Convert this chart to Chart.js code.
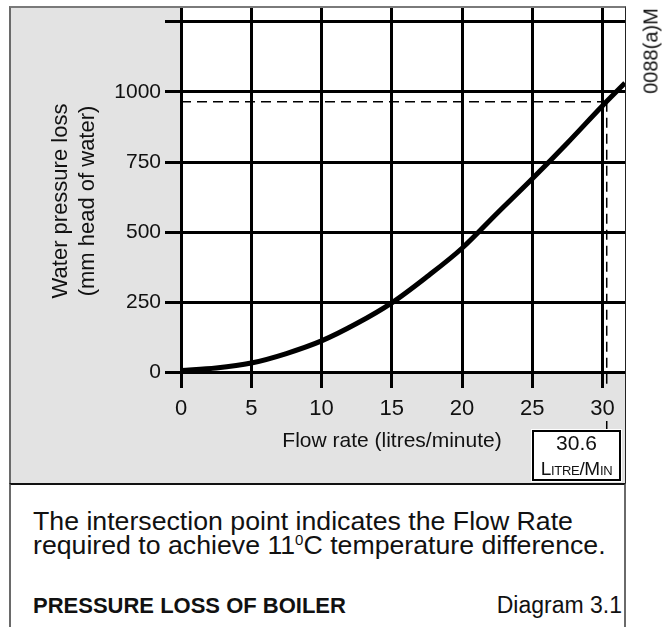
<!DOCTYPE html>
<html>
<head>
<meta charset="utf-8">
<title>Pressure loss of boiler</title>
<script src="https://cdn.jsdelivr.net/npm/chart.js@4.4.0/dist/chart.umd.min.js"></script>
<style>
  html, body { margin: 0; padding: 0; background: #fff; }
  body {
    width: 666px; height: 627px; position: relative; overflow: hidden;
    font-family: "Liberation Sans", Arial, Helvetica, sans-serif; color: #111;
  }
  #panel {
    position: absolute; left: 9px; top: 6px; width: 617px; height: 478px;
    background: #e3e3e3; box-sizing: border-box;
    border-top: 2px solid #7a7a7a; border-left: 2px solid #6a6a6a; border-right: 1px solid #222;
  }
  #wrap { position: absolute; left: 0; top: 0; width: 666px; height: 483px; }
  #ref {
    position: absolute; left: 651px; top: 51px; font-size: 20px; white-space: nowrap;
    transform: translate(-50%, -50%) rotate(-90deg);
  }
  #duty {
    position: absolute; left: 532px; top: 430px; width: 89px; height: 51px;
    box-sizing: border-box; border: 2px solid #000; background: #fff;
    box-shadow: 0 0 0 1px #fff; text-align: center;
  }
  #duty .v { font-size: 21px; line-height: 22px; margin-top: 0; }
  #duty .u { font-size: 19px; line-height: 20px; margin-top: 5px; font-variant: small-caps; letter-spacing: -0.3px; }
  #caption {
    position: absolute; left: 9px; top: 483px; width: 617px; height: 150px;
    background: #fff; box-sizing: border-box;
    border-top: 2px solid #111; border-left: 2px solid #6a6a6a; border-right: 2px solid #6a6a6a;
  }
  #caption p { position: absolute; left: 22px; top: 24px; margin: 0; font-size: 26.7px; line-height: 24px; white-space: nowrap; }
  #caption sup { font-size: 15px; vertical-align: 9px; line-height: 0; }
  #caption .name { position: absolute; left: 22px; top: 108px; font-size: 22px; font-weight: bold; }
  #caption .num { position: absolute; right: 2px; top: 107px; font-size: 23px; }
</style>
</head>
<body>
<div id="panel"></div>
<div id="wrap"><canvas id="chart" width="666" height="483"></canvas></div>
<div id="ref">0088(a)M</div>
<div id="duty"><div class="v">30.6</div><div class="u">Litre/Min</div></div>
<div id="caption">
  <p>The intersection point indicates the Flow Rate<br>required to achieve 11<sup>0</sup>C temperature difference.</p>
  <div class="name">PRESSURE LOSS OF BOILER</div>
  <div class="num">Diagram 3.1</div>
</div>
<script>
// curve
const FLOW = [0, 2.5, 5, 7.5, 10, 12.5, 15, 17.5, 20, 22.5, 25, 27.5, 30, 31.6];
const LOSS = [5, 14, 32, 66, 111, 173, 247, 340, 442, 567, 690, 818, 951, 1032];

const X_TICKS = [0, 5, 10, 15, 20, 25, 30];
const Y_TICKS = [0, 250, 500, 750, 1000, 1250];
const Y_LABELS = ["0", "250", "500", "750", "1000", ""];
const X_MAX = 31.6;
const Y_MAX = 1300;

// dashed duty point (11 C difference)
const DUTY_FLOW = 30.3;
const DUTY_LOSS = 965;
const DASH_END = -60;            // dashed drop runs a little under the axis
const LEADER = [-175, -210];     // short stroke down to the 30.6 box

const FONT = "'Liberation Sans', Arial, Helvetica, sans-serif";

const whiteArea = {
  id: "whiteArea",
  beforeDraw(chart) {
    const { ctx, chartArea: a } = chart;
    ctx.save();
    ctx.fillStyle = "#fff";
    ctx.fillRect(a.left, a.top, a.right - a.left, a.bottom - a.top);
    ctx.restore();
  },
};

const axisTitles = {
  id: "axisTitles",
  afterDraw(chart) {
    const ctx = chart.ctx;
    ctx.save();
    ctx.fillStyle = "#111";
    ctx.font = "21px " + FONT;
    ctx.textAlign = "center";
    ctx.textBaseline = "middle";
    ctx.fillText("Flow rate (litres/minute)", 392, 441);
    ctx.font = "22px " + FONT;
    ctx.translate(61, 201);
    ctx.rotate(-Math.PI / 2);
    ctx.fillText("Water pressure loss", 0, 0);
    ctx.fillText("(mm head of water)", 0, 27);
    ctx.restore();
  },
};

const gridStyle = {
  color: "#000", lineWidth: 3,
  drawTicks: true, tickLength: 16, tickColor: "#000", tickWidth: 3,
};

new Chart(document.getElementById("chart"), {
  type: "line",
  data: {
    datasets: [
      {
        data: FLOW.map((x, i) => ({ x, y: LOSS[i] })),
        borderColor: "#000", borderWidth: 5,
        pointRadius: 0, cubicInterpolationMode: "monotone",
      },
      {
        data: [{ x: 0, y: DUTY_LOSS }, { x: DUTY_FLOW, y: DUTY_LOSS }],
        borderColor: "#000", borderWidth: 1.5, borderDash: [10, 6], pointRadius: 0,
      },
      {
        data: [{ x: DUTY_FLOW, y: DUTY_LOSS }, { x: DUTY_FLOW, y: DASH_END }],
        borderColor: "#000", borderWidth: 1.5, borderDash: [10, 6], pointRadius: 0, clip: false,
      },
      {
        data: LEADER.map(y => ({ x: DUTY_FLOW, y })),
        borderColor: "#000", borderWidth: 1.5, pointRadius: 0, clip: false,
      },
    ],
  },
  options: {
    responsive: false,
    animation: false,
    events: [],
    layout: { padding: { top: 8, right: 41, left: 0, bottom: 0 } },
    plugins: { legend: { display: false }, tooltip: { enabled: false } },
    scales: {
      x: {
        type: "linear", min: 0, max: X_MAX,
        afterBuildTicks: s => { s.ticks = X_TICKS.map(value => ({ value })); },
        afterFit: s => { s.height = 111; s.paddingLeft = 0; s.paddingRight = 0; },
        grid: gridStyle,
        border: { display: false },
        ticks: { color: "#111", font: { size: 22, family: FONT }, padding: 8, maxRotation: 0 },
      },
      y: {
        min: 0, max: Y_MAX,
        afterBuildTicks: s => { s.ticks = Y_TICKS.map(value => ({ value })); },
        afterFit: s => { s.width = 181; s.paddingTop = 0; s.paddingBottom = 0; },
        grid: gridStyle,
        border: { display: false },
        ticks: {
          color: "#111", font: { size: 21, family: FONT }, padding: 4,
          callback: (v, i) => Y_LABELS[i],
        },
      },
    },
  },
  plugins: [whiteArea, axisTitles],
});
</script>
</body>
</html>
